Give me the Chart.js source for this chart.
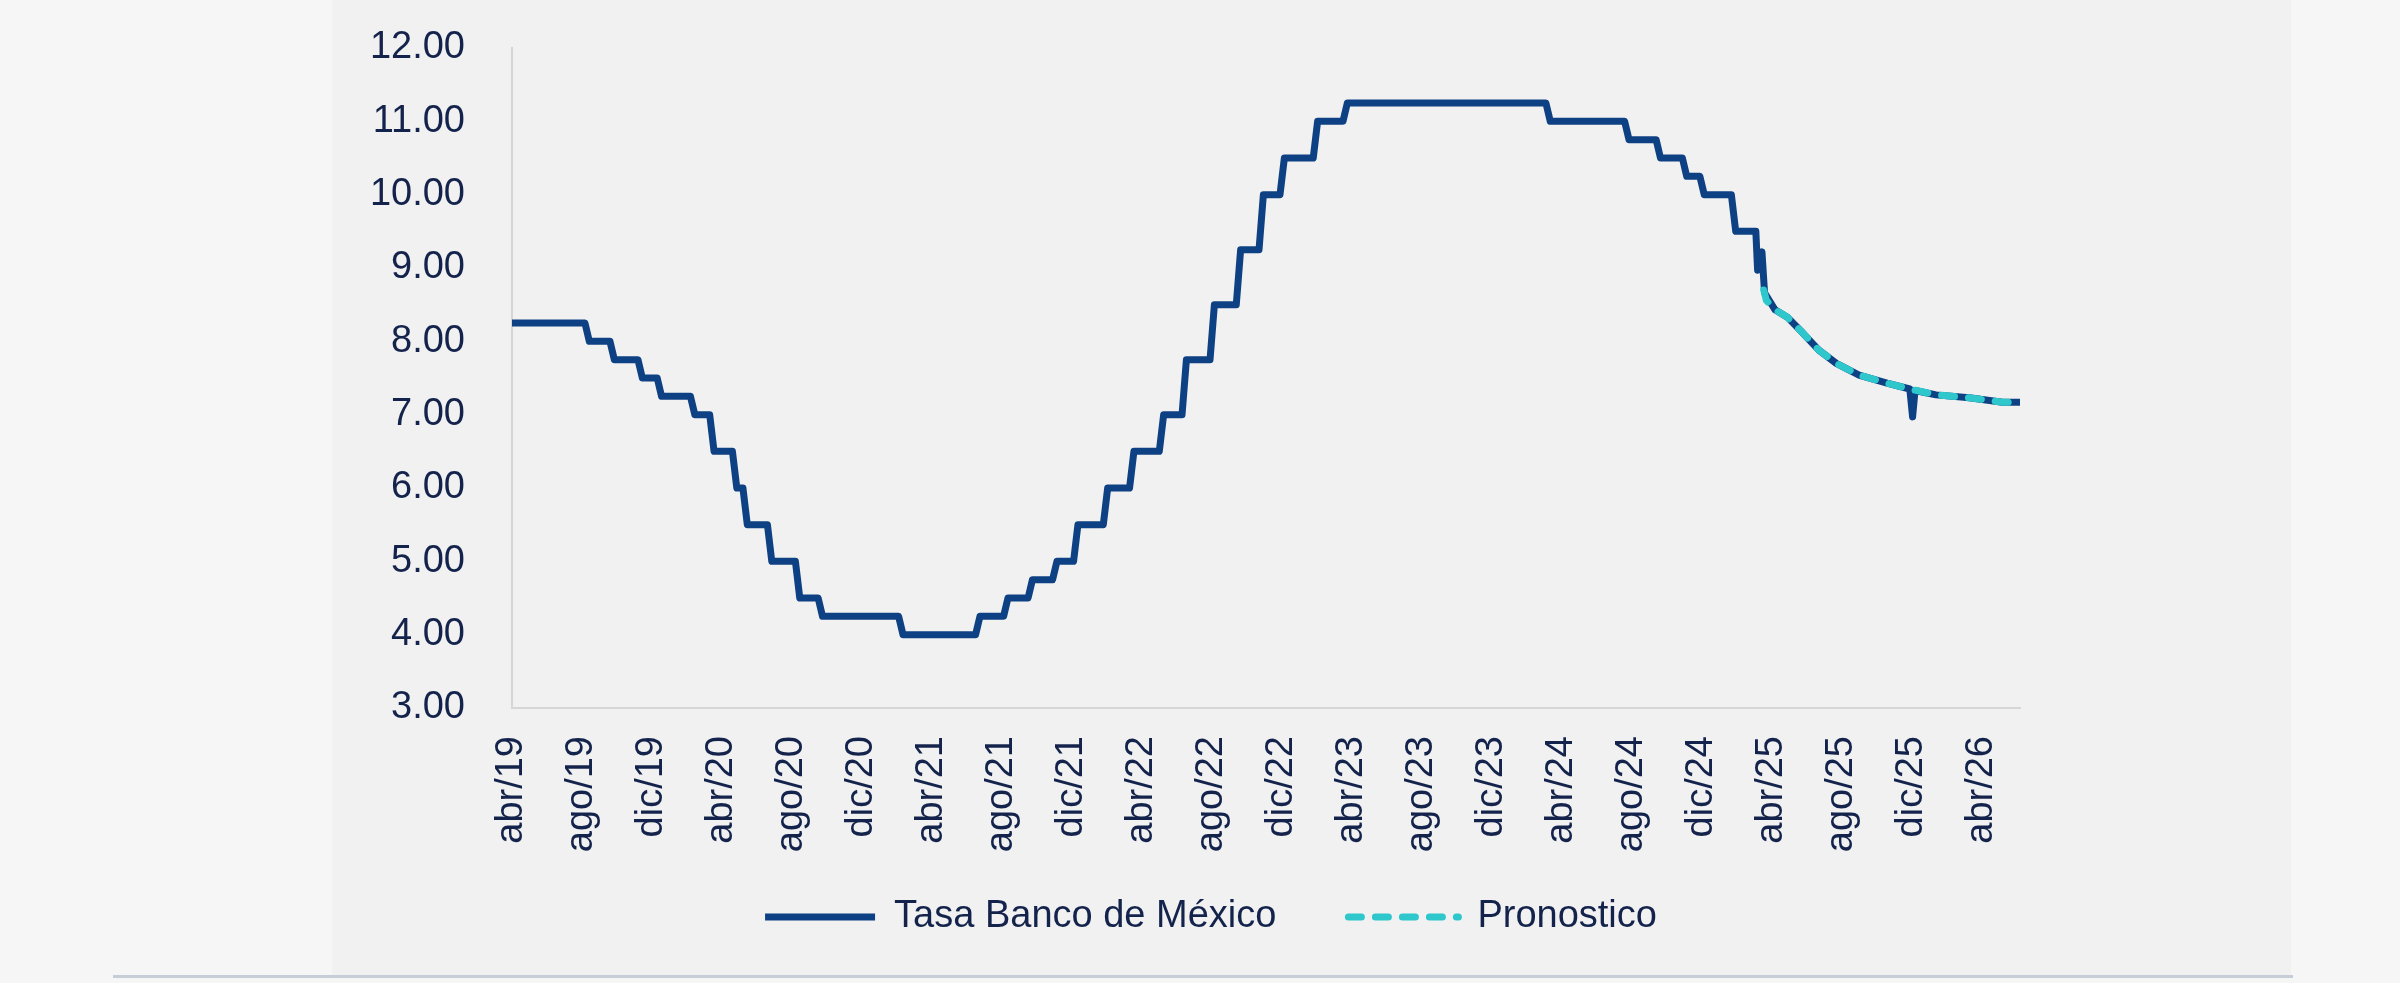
<!DOCTYPE html>
<html lang="es">
<head>
<meta charset="utf-8">
<title>Tasa Banco de México</title>
<script src="https://cdn.jsdelivr.net/npm/chart.js@4.4.1/dist/chart.umd.min.js"></script>
<style>
  html, body { margin: 0; padding: 0; }
  body { width: 2400px; height: 983px; background: #f6f6f6; position: relative; overflow: hidden; }
  #panel { position: absolute; left: 332px; top: 0; width: 1959px; height: 975px; background: #f1f1f1; }
  #linea { position: absolute; left: 113px; top: 975px; width: 2180px; height: 3px; background: #c6cdd6; }
  #grafica { position: absolute; left: 332px; top: 0; }
</style>
</head>
<body>
<div id="panel"></div>
<div id="linea"></div>
<canvas id="grafica" width="1750" height="990"></canvas>
<script>
// eje x en meses contados desde abr/19
const etiquetas = ['abr/19', 'ago/19', 'dic/19', 'abr/20', 'ago/20', 'dic/20', 'abr/21', 'ago/21',
  'dic/21', 'abr/22', 'ago/22', 'dic/22', 'abr/23', 'ago/23', 'dic/23', 'abr/24', 'ago/24',
  'dic/24', 'abr/25', 'ago/25', 'dic/25', 'abr/26'];
const mesesEtiqueta = [0, 4, 8, 12, 16, 20, 24, 28, 32, 36, 40, 44, 48, 52, 56, 60, 64, 68, 72, 76, 80, 84];

// tasa objetivo: mes del cambio y nuevo nivel
const mesesDecision = [0, 4.17, 5.6, 7.2, 8.3, 10.2, 11.3, 12.6, 13.2, 14.6, 16.2, 17.5, 22.1,
  26.5, 28.1, 29.5, 30.9, 32.1, 33.8, 35.3, 37.0, 38.3, 39.9, 41.4, 42.7, 43.9, 45.8, 47.5,
  59.1, 63.6, 65.4, 66.9, 67.9, 69.7];
const tasasDecision = [8.25, 8.00, 7.75, 7.50, 7.25, 7.00, 6.50, 6.00, 5.50, 5.00, 4.50, 4.25, 4.00,
  4.25, 4.50, 4.75, 5.00, 5.50, 6.00, 6.50, 7.00, 7.75, 8.50, 9.25, 10.00, 10.50, 11.00, 11.25,
  11.00, 10.75, 10.50, 10.25, 10.00, 9.50];
const duracionCambio = 0.25;

// tramo final de la tasa (ya sin escalones)
const mesesCola = [71.1, 71.2, 71.45, 71.6, 72.2, 72.9, 73.8, 74.7, 75.7, 77.0, 78.6, 79.9, 80.06,
  80.2, 81.4, 83.3, 85.2, 86.2];
const tasasCola = [9.50, 8.97, 9.22, 8.66, 8.43, 8.33, 8.11, 7.88, 7.70, 7.54, 7.43, 7.35, 6.97,
  7.33, 7.27, 7.23, 7.17, 7.17];

// pronostico
const mesesPronostico = [71.55, 71.7, 72.2, 72.9, 73.8, 74.7, 75.7, 77.0, 78.6, 79.9, 81.4, 83.3, 85.2, 86.2];
const tasasPronostico = [8.70, 8.56, 8.43, 8.33, 8.11, 7.88, 7.70, 7.54, 7.43, 7.35, 7.27, 7.23, 7.17, 7.17];

const fuente = { family: "'Liberation Sans', Arial, sans-serif", size: 38 };
const colorTexto = '#14234b';

const puntosTasa = [];
mesesDecision.forEach((m, i) => {
  if (i > 0) puntosTasa.push({ x: m, y: tasasDecision[i - 1] });
  puntosTasa.push({ x: i > 0 ? m + duracionCambio : m, y: tasasDecision[i] });
});
mesesCola.forEach((m, i) => puntosTasa.push({ x: m, y: tasasCola[i] }));

const puntosPronostico = mesesPronostico.map((m, i) => ({ x: m, y: tasasPronostico[i] }));

// la leyenda va un poco mas arriba y a la derecha que donde la deja Chart.js
const posicionLeyenda = {
  id: 'posicionLeyenda',
  afterLayout(chart) {
    const l = chart.legend;
    const dy = chart.chartArea.bottom + 118 - l.top;
    l.top += dy;
    l.bottom += dy;
    l.left += 20;
    l.right += 20;
  }
};

new Chart(document.getElementById('grafica'), {
  type: 'line',
  data: {
    datasets: [{
      label: 'Tasa Banco de México',
      data: puntosTasa,
      borderColor: '#0e4183',
      backgroundColor: '#0e4183',
      borderWidth: 7,
      borderJoinStyle: 'round',
      pointRadius: 0,
      pointStyle: 'line',
      order: 1
    }, {
      label: 'Pronostico',
      data: puntosPronostico,
      borderColor: '#2ec8cc',
      backgroundColor: '#2ec8cc',
      borderWidth: 7,
      borderDash: [13, 14],
      borderCapStyle: 'round',
      pointRadius: 0,
      pointStyle: 'line',
      order: 0
    }]
  },
  options: {
    responsive: false,
    animation: false,
    devicePixelRatio: 1,
    layout: { padding: { top: 48, bottom: 2, left: 30, right: 62 } },
    scales: {
      x: {
        type: 'linear',
        min: 0,
        max: 86.2,
        grid: { display: false, drawTicks: false },
        border: { display: true, color: '#d6d6d6', width: 2 },
        afterBuildTicks: (s) => { s.ticks = mesesEtiqueta.map(v => ({ value: v })); },
        afterFit: (s) => { s.height = 160; },
        ticks: {
          minRotation: 90,
          maxRotation: 90,
          autoSkip: false,
          padding: 28,
          color: colorTexto,
          font: fuente,
          callback: (v, i) => etiquetas[i]
        }
      },
      y: {
        min: 3,
        max: 12,
        grid: { display: false, drawTicks: false },
        border: { display: true, color: '#d6d6d6', width: 2 },
        afterFit: (s) => {
          s.width = 150;
          s.paddingTop = 0;
          s.paddingBottom = 0;
        },
        ticks: {
          stepSize: 1,
          padding: 47,
          color: colorTexto,
          font: fuente,
          callback: (v) => v.toFixed(2)
        }
      }
    },
    plugins: {
      legend: {
        position: 'bottom',
        labels: {
          usePointStyle: true,
          pointStyleWidth: 110,
          padding: 72,
          color: colorTexto,
          font: fuente,
          sort: (a, b) => a.datasetIndex - b.datasetIndex,
          generateLabels: (chart) => Chart.defaults.plugins.legend.labels.generateLabels(chart).map(item => {
            const ds = chart.data.datasets[item.datasetIndex];
            return Object.assign(item, {
              strokeStyle: ds.borderColor,
              lineWidth: ds.borderWidth,
              lineDash: ds.borderDash || [],
              lineCap: ds.borderCapStyle || 'butt'
            });
          })
        }
      },
      tooltip: { enabled: false }
    }
  },
  plugins: [posicionLeyenda]
});
</script>
</body>
</html>
